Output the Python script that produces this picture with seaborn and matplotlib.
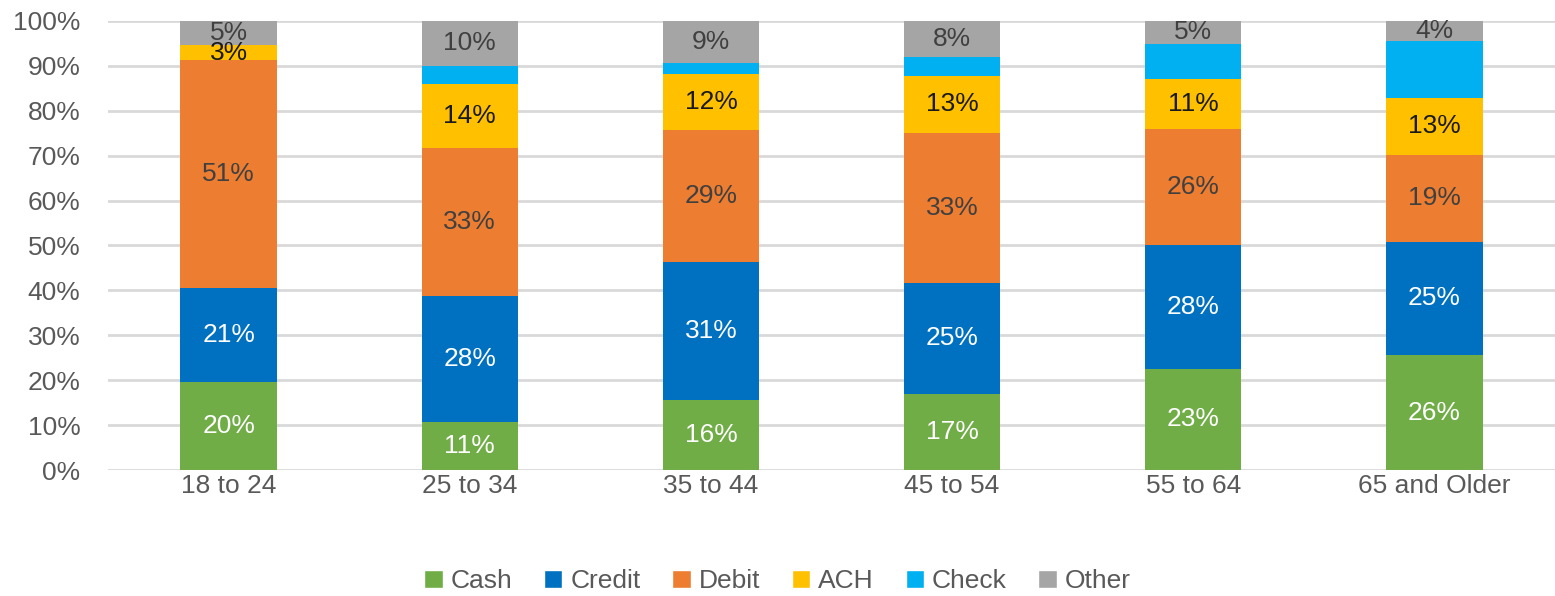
import numpy as np
import pandas as pd
import seaborn as sns
import matplotlib.pyplot as plt
from matplotlib.patches import Patch

# Chart data (percent of payments by age group)
age_groups = ["18 to 24", "25 to 34", "35 to 44", "45 to 54", "55 to 64", "65 and Older"]
methods = ["Cash", "Credit", "Debit", "ACH", "Check", "Other"]
cash = [19.6, 10.6, 15.6, 17.0, 22.6, 25.6]
credit = [20.9, 28.1, 30.8, 24.7, 27.6, 25.2]
debit = [50.7, 33.0, 29.4, 33.3, 25.8, 19.4]
ach = [3.4, 14.3, 12.3, 12.8, 11.0, 12.7]
check = [0.0, 4.0, 2.6, 4.1, 7.9, 12.7]
other = [5.4, 10.0, 9.3, 8.1, 5.1, 4.4]

colors = ["#70AD47", "#0070C0", "#ED7D31", "#FFC000", "#00B0F0", "#A5A5A5"]
label_colors = ["white", "white", "#404040", "#1a1a1a", None, "#404040"]

sns.set_style("white")
plt.rcParams["font.family"] = ["Liberation Sans Narrow", "Liberation Sans", "DejaVu Sans"]

df = pd.DataFrame({"Age": age_groups, "Cash": cash, "Credit": credit, "Debit": debit,
                   "ACH": ach, "Check": check, "Other": other})

fig = plt.figure(figsize=(15.55, 5.96), dpi=100)
ax = fig.add_axes([0.0695, 0.2114, 0.9305, 0.7534])

bottom = np.zeros(len(df))
for m, c, lc in zip(methods, colors, label_colors):
    sns.barplot(data=df, x="Age", y=m, color=c, bottom=bottom, width=0.4,
                saturation=1, linewidth=0, ax=ax, zorder=3)
    if lc is not None:
        for i, v in enumerate(df[m]):
            if v > 0:
                ax.text(i, bottom[i] + v / 2, f"{round(v)}%", ha="center", va="center",
                        fontsize=19, color=lc, zorder=4)
    bottom = bottom + df[m].values

ax.set_ylim(0, 100)
ax.set_xlim(-0.5, 5.5)
ax.set_yticks(range(0, 101, 10))
ax.set_yticklabels([f"{t}%" for t in range(0, 101, 10)])
ax.yaxis.grid(True, color="#d9d9d9", linewidth=2, zorder=0)
ax.set_axisbelow(True)
ax.set_xlabel("")
ax.set_ylabel("")
for s in ax.spines.values():
    s.set_visible(False)
ax.tick_params(axis="both", length=0, labelsize=19, labelcolor="#595959")
ax.tick_params(axis="x", pad=3)
ax.tick_params(axis="y", pad=20)

handles = [Patch(facecolor=c, label=m) for m, c in zip(methods, colors)]
fig.legend(handles=handles, loc="lower center", ncol=6, frameon=False,
           bbox_to_anchor=(0.5, -0.035), fontsize=19, labelcolor="#595959",
           handlelength=0.7, handleheight=0.7, handletextpad=0.3, columnspacing=1.2)

fig.savefig("out.png", dpi=100)
